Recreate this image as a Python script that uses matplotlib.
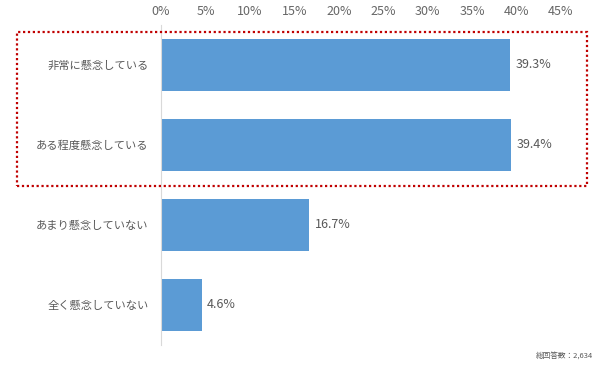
import matplotlib
matplotlib.use("Agg")
import matplotlib.pyplot as plt
from matplotlib.patches import Rectangle

plt.rcParams['font.family'] = ['Noto Sans CJK JP', 'DejaVu Sans']

categories = ["非常に懸念している", "ある程度懸念している", "あまり懸念していない", "全く懸念していない"]
values = [39.3, 39.4, 16.7, 4.6]
ticks = [0, 5, 10, 15, 20, 25, 30, 35, 40, 45]
tick_labels = [f"{t}%" for t in ticks]
footnote = "総回答数：2,634"

W, H = 600, 367
fig = plt.figure(figsize=(6, 3.67), dpi=100)
ax = fig.add_axes([161 / W, 1 - 345 / H, 400 / W, 320 / H])

gray = "#595959"
ax.barh(range(len(values)), values, height=0.66, color="#5B9BD5")
for i, v in enumerate(values):
    ax.text(v + 0.6, i, f"{v}%", va="center", ha="left", fontsize=9, color=gray)

ax.set_xlim(0, 45)
ax.set_ylim(3.5, -0.5)
ax.set_xticks(ticks)
ax.set_xticklabels(tick_labels, fontsize=9, color="#666666")
ax.xaxis.tick_top()
ax.tick_params(axis='x', length=0, pad=5)
ax.set_yticks(range(len(categories)))
ax.set_yticklabels(categories, fontsize=8.1, color=gray)
ax.tick_params(axis='y', length=0, pad=9)
for s in ["top", "right", "bottom"]:
    ax.spines[s].set_visible(False)
ax.spines["left"].set_color("#D9D9D9")
ax.spines["left"].set_linewidth(0.8)

rect = Rectangle((17 / W, 1 - 186 / H), (587 - 17) / W, (186 - 32) / H,
                 transform=fig.transFigure, fill=False, edgecolor="#C00000",
                 linestyle=(0, (1, 1.2)), linewidth=1.6)
fig.patches.append(rect)

fig.text(593 / W, 1 - 357 / H, footnote, ha="right", va="center", fontsize=5.5, color=gray)

fig.savefig("out.png", dpi=100, facecolor="white")
